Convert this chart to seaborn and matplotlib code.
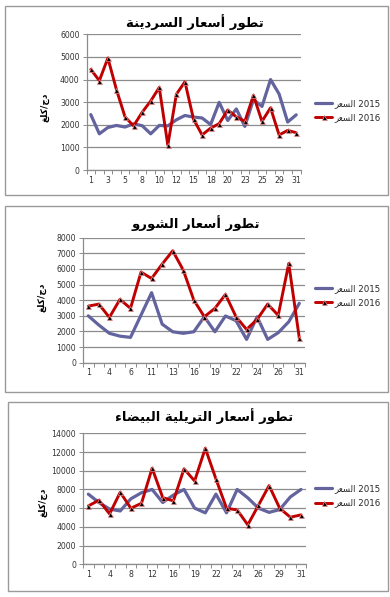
import numpy as np
import pandas as pd
import matplotlib
matplotlib.use("Agg")
import matplotlib.pyplot as plt
from matplotlib.patches import Rectangle
import seaborn as sns

# ---------------- data ----------------
days_sardine = ["1","2","3","4","5","7","8","9","10","11","12","14","15","17","18",
                "19","20","22","23","24","25","27","29","30","31"]
sardine_2015 = [2450,1600,1880,1970,1900,2040,1960,1600,1970,1950,2220,2410,2340,2300,2010,
                2990,2190,2700,1930,3110,2810,4000,3360,2120,2440]
sardine_2016 = [4450,3950,4950,3550,2350,1950,2550,3050,3650,1100,3350,3900,2250,1550,1850,
                2050,2650,2350,2150,3300,2150,2750,1550,1750,1650]

days_chourou = ["1","3","4","5","6","9","11","12","13","15","16","18","19","21","22",
                "23","24","25","26","28","31"]
chourou_2015 = [3000,2410,1880,1700,1620,3050,4480,2470,1980,1880,1980,2940,1980,2990,2690,
                1490,2940,1490,1920,2620,3800]
chourou_2016 = [3620,3750,2900,4050,3480,5800,5390,6310,7160,5930,4010,2940,3480,4370,2940,
                2130,2770,3750,3030,6350,1560]

days_trilia = ["1","2","4","6","8","10","12","14","16","18","19","20","22","23","24",
               "25","26","28","29","30","31"]
trilia_2015 = [7500,6600,5900,5700,7000,7650,8000,6600,7400,8000,6000,5500,7500,5500,8000,
               7100,6000,5550,5850,7200,8000]
trilia_2016 = [6240,6850,5380,7700,5990,6520,10270,7130,6770,10200,8910,12400,9130,5990,5810,
               4210,6310,8410,5990,5030,5280]

titles = ["تطور أسعار السردينة", "تطور أسعار الشورو", "تطور أسعار التريلية البيضاء"]
ylabel = "دج/كلغ"
series_names = ["السعر", "السعر"]
years = ["2015", "2016"]
ymax = [6000, 8000, 14000]
ystep = [1000, 1000, 2000]

# ------------- Arabic shaping (presentation forms, visual order) -------------
FORMS = {
    'ء': ('\uFE80', None, None, None),
    'أ': ('\uFE83', '\uFE84', None, None),
    'ا': ('\uFE8D', '\uFE8E', None, None),
    'ب': ('\uFE8F', '\uFE90', '\uFE91', '\uFE92'),
    'ة': ('\uFE93', '\uFE94', None, None),
    'ت': ('\uFE95', '\uFE96', '\uFE97', '\uFE98'),
    'ج': ('\uFE9D', '\uFE9E', '\uFE9F', '\uFEA0'),
    'د': ('\uFEA9', '\uFEAA', None, None),
    'ر': ('\uFEAD', '\uFEAE', None, None),
    'س': ('\uFEB1', '\uFEB2', '\uFEB3', '\uFEB4'),
    'ش': ('\uFEB5', '\uFEB6', '\uFEB7', '\uFEB8'),
    'ض': ('\uFEBD', '\uFEBE', '\uFEBF', '\uFEC0'),
    'ط': ('\uFEC1', '\uFEC2', '\uFEC3', '\uFEC4'),
    'ع': ('\uFEC9', '\uFECA', '\uFECB', '\uFECC'),
    'غ': ('\uFECD', '\uFECE', '\uFECF', '\uFED0'),
    'ك': ('\uFED9', '\uFEDA', '\uFEDB', '\uFEDC'),
    'ل': ('\uFEDD', '\uFEDE', '\uFEDF', '\uFEE0'),
    'ن': ('\uFEE5', '\uFEE6', '\uFEE7', '\uFEE8'),
    'و': ('\uFEED', '\uFEEE', None, None),
    'ي': ('\uFEF1', '\uFEF2', '\uFEF3', '\uFEF4'),
}


def shape(text):
    out = []
    n = len(text)
    for i, c in enumerate(text):
        if c not in FORMS:
            out.append(c)
            continue
        prev = text[i - 1] if i > 0 else None
        nxt = text[i + 1] if i < n - 1 else None
        jp = prev in FORMS and FORMS[prev][2] is not None and FORMS[c][1] is not None
        jn = FORMS[c][2] is not None and nxt in FORMS and FORMS[nxt][1] is not None
        f = FORMS[c]
        if jp and jn:
            out.append(f[3])
        elif jp:
            out.append(f[1])
        elif jn:
            out.append(f[2])
        else:
            out.append(f[0])
    return "".join(out)


def ar(text):
    return shape(text)[::-1]


# ---------------- figure ----------------
sns.set_theme(style="white")
plt.rcParams['font.family'] = ['DejaVu Sans']

W, H = 390, 597
fig = plt.figure(figsize=(W / 100, H / 100), dpi=100)
fig.patch.set_facecolor("white")


def fx(x):
    return x / W


def fy(y):
    return 1 - y / H


boxes = [(5, 6, 388, 195), (5, 206, 388, 392), (8, 402, 388, 591)]
axes_px = [(86.5, 34.3, 300.5, 170.0), (83.0, 237.7, 304.6, 362.7), (83.0, 433.3, 306.3, 564.3)]
title_y = [22, 223, 416]
title_x = [195, 196, 204]
ylab_pos = [(45, 107), (42, 297), (43, 502)]
leg_y = [(103, 118), (289, 302), (491, 501)]

panels = [
    (days_sardine, sardine_2015, sardine_2016),
    (days_chourou, chourou_2015, chourou_2016),
    (days_trilia, trilia_2015, trilia_2016),
]

blue = "#63649E"
red = "#C00000"
gridc = "#8C8C8C"

for k, (days, v15, v16) in enumerate(panels):
    x0, y0, x1, y1 = boxes[k]
    fig.patches.append(Rectangle((fx(x0), fy(y1)), fx(x1 - x0), (y1 - y0) / H,
                                 transform=fig.transFigure, fill=False,
                                 edgecolor="#9A9A9A", linewidth=1.0))
    l, t, r, b = axes_px[k]
    ax = fig.add_axes([fx(l), fy(b), fx(r - l), (b - t) / H])
    n = len(days)
    df = pd.DataFrame({"day": days, "v15": v15, "v16": v16})
    sns.lineplot(data=df, x="day", y="v15", sort=False, ax=ax, color=blue,
                 linewidth=2.3, zorder=3)
    sns.lineplot(data=df, x="day", y="v16", sort=False, ax=ax, color=red,
                 linewidth=2.1, marker="^", markersize=3.6,
                 markerfacecolor="black", markeredgecolor="#F08A8A",
                 markeredgewidth=0.5, zorder=4)
    ax.set_xlim(-0.5, n - 0.5)
    ax.set_ylim(0, ymax[k])
    ax.set_yticks(np.arange(0, ymax[k] + 1, ystep[k]))
    ax.set_yticklabels([str(int(v)) for v in np.arange(0, ymax[k] + 1, ystep[k])],
                       fontsize=5.6, color="#333333")
    ax.set_xticks(range(n))
    ax.set_xticklabels([d if i % 2 == 0 else "" for i, d in enumerate(days)],
                       fontsize=5.6, color="#333333")
    ax.set_xticks(np.arange(-0.5, n, 1), minor=True)
    ax.tick_params(axis="x", which="major", length=0, pad=4)
    ax.tick_params(axis="x", which="minor", length=3, width=0.7, color="#8C8C8C",
                   direction="out", bottom=True)
    ax.tick_params(axis="y", which="major", length=3, width=0.7, color="#8C8C8C",
                   direction="out", left=True, pad=2)
    ax.set_xlabel("")
    ax.set_ylabel("")
    ax.grid(axis="y", color=gridc, linewidth=0.9)
    ax.grid(axis="x", visible=False)
    ax.set_axisbelow(True)
    for s in ["top", "right"]:
        ax.spines[s].set_visible(False)
    for s in ["left", "bottom"]:
        ax.spines[s].set_color("#8C8C8C")
        ax.spines[s].set_linewidth(0.9)
    ax.set_facecolor("none")

    fig.text(fx(title_x[k]), fy(title_y[k]), ar(titles[k]), ha="center", va="center",
             fontsize=9.5, fontweight="bold", color="black")
    fig.text(fx(ylab_pos[k][0]), fy(ylab_pos[k][1]), ar(ylabel), ha="center", va="center",
             rotation=90, fontsize=6.5, fontweight="bold", color="black")

    # legend
    handles = [
        plt.Line2D([], [], color=blue, linewidth=2.3),
        plt.Line2D([], [], color=red, linewidth=2.1, marker="^", markersize=3.6,
                   markerfacecolor="black", markeredgecolor="#F08A8A", markeredgewidth=0.5),
    ]
    labels = [ar(series_names[0]) + " " + years[0], ar(series_names[1]) + " " + years[1]]
    lx = 315
    ly = (leg_y[k][0] + leg_y[k][1]) / 2
    fig.legend(handles, labels, loc="center left", bbox_to_anchor=(fx(lx), fy(ly)),
               frameon=False, fontsize=6.2, handlelength=2.0, handletextpad=0.25,
               labelspacing=0.6, borderpad=0, borderaxespad=0)

fig.savefig("out.png", dpi=100, facecolor="white")
